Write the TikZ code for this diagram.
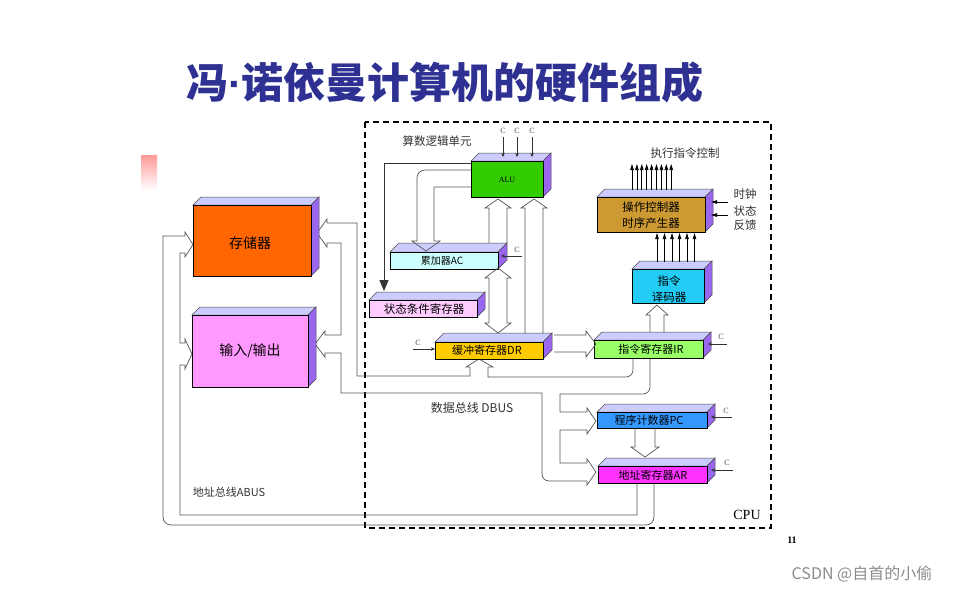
\documentclass[tikz,border=0pt]{standalone}
\usepackage{fontspec}
\setmainfont{Liberation Serif}
\newfontfamily\cjk{Noto Sans CJK SC}
\newfontfamily\latinsans{Liberation Sans}
\usetikzlibrary{arrows.meta,fit,calc}
\definecolor{titleblue}{HTML}{2E3192}
\definecolor{topc}{HTML}{CCCCFF}
\definecolor{sidec}{HTML}{9966EE}
\definecolor{memc}{HTML}{FF6600}
\definecolor{ioc}{HTML}{FF99FF}
\definecolor{aluc}{HTML}{33CC00}
\definecolor{acc}{HTML}{CCFFFF}
\definecolor{src}{HTML}{FFCCFF}
\definecolor{drc}{HTML}{FFCC00}
\definecolor{irc}{HTML}{99FF66}
\definecolor{decc}{HTML}{22CCF5}
\definecolor{ctlc}{HTML}{CC9933}
\definecolor{pcc}{HTML}{3399FF}
\definecolor{arc}{HTML}{FF33FF}
\definecolor{busc}{HTML}{555555}
\tikzset{
  x=1pt, y=-1pt,
  topface/.style={fill=topc, draw=black!70, line width=0.5pt},
  sideface/.style={fill=sidec, draw=black!70, line width=0.5pt},
  front/.style={draw=black, line width=0.9pt, inner sep=0pt, outer sep=0pt},
  bus/.style={draw=busc, line width=0.7pt, line join=miter},
  lbl/.style={font=\cjk\fontsize{11}{11}\selectfont, inner sep=0pt},
  clk/.style={font=\fontsize{8}{8}\selectfont, text=black!70, inner sep=0pt},
  clkarr/.style={draw=black!80, line width=0.6pt, -{Stealth[length=4pt,width=3.5pt]}},
  ctlarr/.style={draw=black, line width=0.7pt, -{Triangle[length=6pt,width=3.5pt]}},
}
\newcommand\blk[7]{%
  \filldraw[topface] (#2,#3) -- (#2+#7,#3-#7) -- (#4+#7,#3-#7) -- (#4,#3) -- cycle;
  \filldraw[sideface] (#4,#3) -- (#4+#7,#3-#7) -- (#4+#7,#5-#7) -- (#4,#5) -- cycle;
  \node[front, fill=#6, fit={(#2,#3) (#4,#5)}] (#1) {};
}
\newcommand\hup[5]{% xL xR ybase ywing ytip
  \draw[bus] (#1,#3) -- (#1,#4) -- (#1-4,#4) -- ({(#1+#2)/2},#5) -- (#2+4,#4) -- (#2,#4) -- (#2,#3);}
\newcommand\hdown[5]{% xL xR ybase ywing ytip
  \draw[bus] (#1,#3) -- (#1,#4) -- (#1-4,#4) -- ({(#1+#2)/2},#5) -- (#2+4,#4) -- (#2,#4) -- (#2,#3);}
\begin{document}
\begin{tikzpicture}
\useasboundingbox (0,0) rectangle (964,590);
\fill[white] (0,0) rectangle (964,590);

% title
\node[font=\cjk\bfseries\fontsize{42}{42}\selectfont, text=titleblue, inner sep=0pt] (title) at (445,82) {冯{\latinsans\bfseries ·}诺依曼计算机的硬件组成};
\shade[top color=red!40, bottom color=white, draw=none] (141,155) rectangle (157,190);

% CPU frame
\draw[line width=1.4pt, dash pattern=on 6pt off 4pt] (365,122) rectangle (771,528);
\node[font=\fontsize{14}{14}\selectfont, inner sep=0pt] (cpu) at (747,515) {CPU};
\node[font=\bfseries\fontsize{10}{10}\selectfont, inner sep=0pt] (pg) at (792,540) {11};
\node[font=\cjk\fontsize{16}{16}\selectfont, text=black!45, inner sep=0pt] (wm) at (862,574) {CSDN @自首的小偷};

% ---------- bus lines (drawn first) ----------
% data bus outer / inner lines
\draw[bus] (488,367) -- (488,377) [rounded corners=7pt] -- (633,377) -- (633,358);
\draw[bus] (470,367) -- (470,376) -- (357,376) -- (357,223) -- (327,223) -- (327,219)
   -- (317,233) -- (327,247) -- (327,243) -- (341,243) -- (341,335) -- (325,335) -- (325,331)
   -- (315,344) -- (325,357) -- (325,353) -- (341,353) -- (341,393) -- (542,393)
   [rounded corners=7pt] -- (542,481) [sharp corners] -- (587,481) -- (587,485) -- (596,472) -- (587,459)
   -- (587,463) -- (560,463) -- (560,430) -- (587,430) -- (587,434) -- (596,421) -- (587,408)
   -- (587,412) -- (560,412) -- (560,394) [rounded corners=7pt] -- (650,394) -- (650,358);
% DR input chevron (from data bus)
\draw[bus] (470,367) -- (466,367) -- (479,359) -- (493,367) -- (488,367);

% address bus
\draw[bus] (654,483) [rounded corners=8pt] -- (654,525) -- (163,525) [sharp corners] -- (163,236) -- (185,236)
   -- (185,232) -- (193,244.5) -- (185,257) -- (185,253) -- (180,253) -- (180,343) -- (185,343)
   -- (185,339) -- (192,354) -- (185,369) -- (185,365) -- (180,365) -- (180,515) -- (637,515) -- (637,483);

% ---------- blocks ----------
\blk{mem}{193}{205}{311}{276}{memc}{8}
\blk{io}{192}{315}{308}{387}{ioc}{8}
\blk{alu}{471}{161}{543}{197}{aluc}{8}
\blk{ac}{390}{252}{498}{269}{acc}{9}
\blk{sr}{369}{300}{477}{317}{src}{8}
\blk{dr}{435}{342}{543}{359}{drc}{9}
\blk{ir}{594}{340}{703}{358}{irc}{8}
\blk{dec}{632}{269}{704}{303}{decc}{8}
\blk{ctl}{597}{197}{705}{232}{ctlc}{8}
\blk{pc}{597}{412}{707}{428}{pcc}{8}
\blk{ar}{598}{466}{707}{483}{arc}{8}

% block labels
\node[lbl, font=\cjk\fontsize{14}{14}\selectfont] (memt) at (250,243) {存储器};
\node[lbl, font=\cjk\fontsize{14}{14}\selectfont] (iot) at (250,351) {输入/输出};
\node[font=\fontsize{8}{8}\selectfont, inner sep=0pt] (alut) at (507,180) {ALU};
\node[lbl, font=\cjk\fontsize{10}{10}\selectfont] (act) at (442,261) {累加器AC};
\node[lbl, font=\cjk\fontsize{11.5}{11.5}\selectfont] (srt) at (424,309) {状态条件寄存器};
\node[lbl] (drt) at (487,350) {缓冲寄存器DR};
\node[lbl] (irt) at (651,349) {指令寄存器IR};
\node[lbl] (pct) at (649,420) {程序计数器PC};
\node[lbl] (art) at (653,475) {地址寄存器AR};
\node[lbl, font=\cjk\fontsize{11.5}{11.5}\selectfont] (ctlt1) at (651,207) {操作控制器};
\node[lbl, font=\cjk\fontsize{11.5}{11.5}\selectfont] (ctlt2) at (651,223) {时序产生器};
\node[lbl, font=\cjk\fontsize{11.5}{11.5}\selectfont] (dect1) at (669,281) {指令};
\node[lbl, font=\cjk\fontsize{11.5}{11.5}\selectfont] (dect2) at (669,297) {译码器};

% free labels
\node[lbl, font=\cjk\fontsize{11.5}{11.5}\selectfont, text=black!80] (alul) at (437,141) {算数逻辑单元};
\node[lbl, font=\cjk\fontsize{11.5}{11.5}\selectfont, text=black!80] (exl) at (685,153) {执行指令控制};
\node[lbl, font=\cjk\fontsize{11.5}{11.5}\selectfont, text=black!80] (clkl) at (745,194) {时钟};
\node[lbl, font=\cjk\fontsize{11.5}{11.5}\selectfont, text=black!80] (stl) at (745,211) {状态};
\node[lbl, font=\cjk\fontsize{11.5}{11.5}\selectfont, text=black!80] (fbl) at (745,225) {反馈};
\node[lbl, font=\cjk\fontsize{12}{12}\selectfont, text=black!80] (dbus) at (472,408) {数据总线 DBUS};
\node[lbl, font=\cjk\fontsize{11}{11}\selectfont, text=black!80] (abus) at (229,492) {地址总线ABUS};

% ---------- hollow arrows ----------
% AC -> ALU, DR -> ALU
\hup{489}{507}{243}{208}{199}
\hup{525}{543}{333}{208}{199}
% AC <-> DR
\draw[bus] (489,278) -- (485,278) -- (498,268) -- (511,278) -- (507,278) -- (507,323)
   -- (511,323) -- (498,333) -- (485,323) -- (489,323) -- cycle;
% ALU -> AC (bent)
\draw[bus] (471,170) [rounded corners=8pt] -- (417,170) [sharp corners] -- (417,241) -- (412,241)
   -- (426,251) -- (440,241) -- (434,241) -- (434,187) -- (471,187);
% DR -> IR
\draw[bus] (554,335) -- (586,335) -- (586,331) -- (596,344) -- (586,357) -- (586,352) -- (554,352);
% IR -> decoder
\hup{650}{664}{332}{315}{305}
% PC -> AR
\hdown{635}{655}{428}{447}{457}

% status line ALU -> state register
\draw[draw=black!80, line width=0.8pt, -{Triangle[length=11pt,width=9pt]}] (471,163) -- (384,163) -- (384,291);

% ---------- clock inputs ----------
\foreach \xx in {503,517,532}{
  \node[clk] at (\xx,131) {C};
  \draw[clkarr] (\xx,137) -- (\xx,157);
}
\node[clk] (cac) at (517,250) {C};
\draw[clkarr] (522,256) -- (501,256);
\node[clk] (cdr) at (418,343) {C};
\draw[clkarr] (413,349) -- (435,349);
\node[clk] (cir) at (721,337) {C};
\draw[clkarr] (727,344) -- (708,344);
\node[clk] (cpc) at (726,411) {C};
\draw[clkarr] (732,417) -- (711,417);
\node[clk] (car) at (727,463) {C};
\draw[clkarr] (733,470) -- (711,470);

% ---------- control arrows ----------
\foreach \i in {0,...,8}{
  \draw[ctlarr] ({632+\i*4.9},190) -- ({632+\i*4.9},164);
}
\foreach \xx in {657,664.5,672,679.5,687,694.5}{
  \draw[ctlarr] (\xx,262) -- (\xx,233);
}
\draw[ctlarr] (728,202) -- (711,202);
\draw[ctlarr] (728,215) -- (711,215);
\end{tikzpicture}
\end{document}
